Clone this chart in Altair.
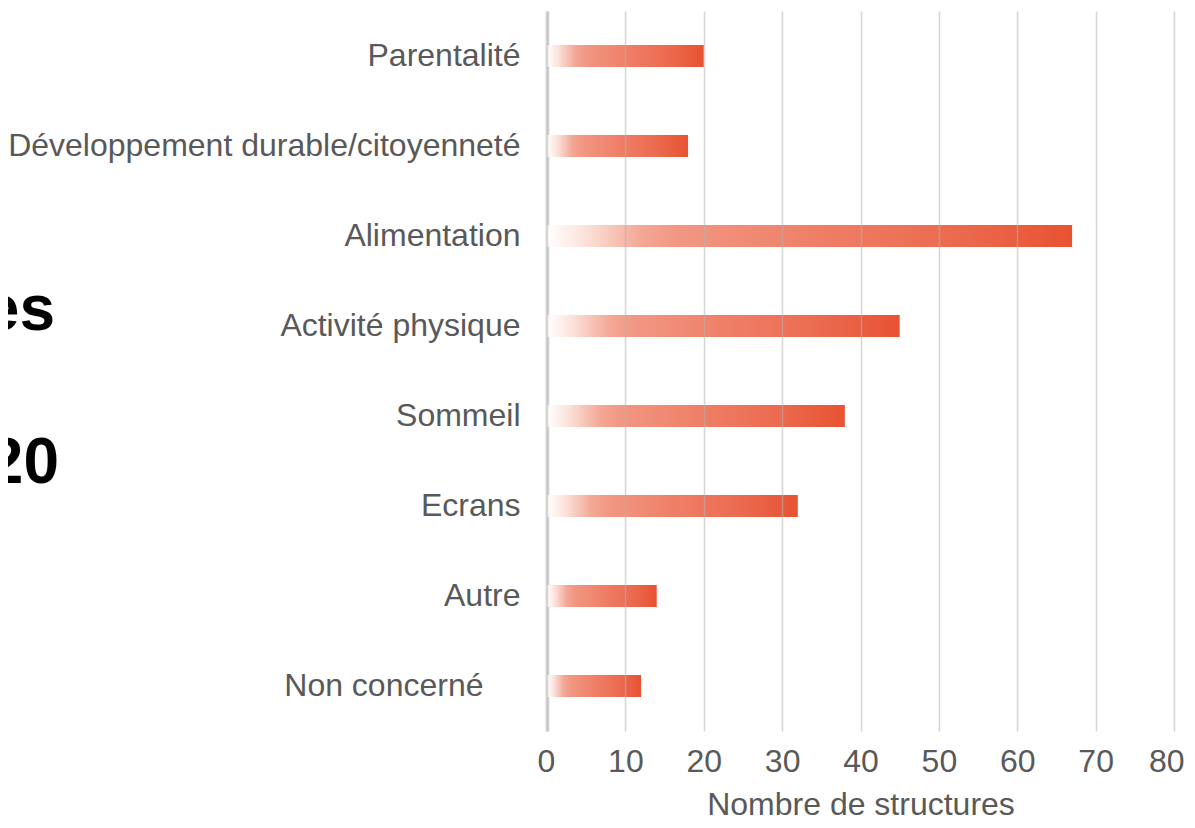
import altair as alt
import pandas as pd

categories = [
    "Parentalité",
    "Développement durable/citoyenneté",
    "Alimentation",
    "Activité physique",
    "Sommeil",
    "Ecrans",
    "Autre",
    "Non concerné",
]
values = [20, 18, 67, 45, 38, 32, 14, 12]

title_lines = ["Thématiques abordées", "en 2019-2020"]
title_x = [-492, -488]
title_y = [319, 472]

df = pd.DataFrame({"categorie": categories, "structures": values})
df_title = pd.DataFrame({"texte": title_lines, "px": title_x, "py": title_y})

grad = alt.LinearGradient(
    gradient="linear",
    x1=0, x2=1, y1=0, y2=0,
    stops=[
        alt.GradientStop(color="#ffffff", offset=0),
        alt.GradientStop(color="#fbe3dc", offset=0.07),
        alt.GradientStop(color="#f3a795", offset=0.18),
        alt.GradientStop(color="#f19783", offset=0.25),
        alt.GradientStop(color="#ef8068", offset=0.5),
        alt.GradientStop(color="#eb6a4f", offset=0.78),
        alt.GradientStop(color="#e85232", offset=1),
    ],
)

font = "Liberation Sans"
grey = "#595959"

bars = alt.Chart(df).mark_bar(color=grad, size=22).encode(
    y=alt.Y(
        "categorie:N",
        sort=categories,
        title=None,
        scale=alt.Scale(paddingInner=0, paddingOuter=0),
        axis=alt.Axis(
            ticks=False,
            domain=True,
            domainColor="#d9d9d9",
            domainWidth=4,
            labelFont=font,
            labelFontSize=32,
            labelColor=grey,
            labelPadding={
                "condition": {"test": "datum.value === 'Non concerné'", "value": 64},
                "value": 27,
            },
            labelLimit=700,
            grid=False,
        ),
    ),
    x=alt.X(
        "structures:Q",
        title="Nombre de structures",
        scale=alt.Scale(domain=[0, 80], nice=False),
        axis=alt.Axis(
            values=[0, 10, 20, 30, 40, 50, 60, 70, 80],
            ticks=False,
            domain=False,
            grid=True,
            gridColor="#b3b3b3",
            gridOpacity=0.55,
            gridWidth=1.5,
            labelFont=font,
            labelFontSize=32,
            labelColor=grey,
            labelPadding=15,
            labelFlush=True,
            labelFlushOffset=10,
            titleFont=font,
            titleFontSize=32,
            titleFontWeight="normal",
            titleColor=grey,
            titlePadding=12,
            zindex=1,
        ),
    ),
)

titles = alt.Chart(df_title).mark_text(
    align="right", baseline="alphabetic", font=font,
    fontSize=64, fontWeight="bold", color="#000000",
).encode(
    x=alt.X("px:Q", scale=None),
    y=alt.Y("py:Q", scale=None),
    text="texte:N",
)

chart = alt.layer(bars, titles).properties(
    width=627,
    height=720,
    autosize=alt.AutoSizeParams(type="none"),
    padding={"left": 539, "top": 3, "right": 13, "bottom": 88},
).configure_view(stroke=None)

chart.save("out.html", embed_options={"renderer": "svg", "actions": False})
